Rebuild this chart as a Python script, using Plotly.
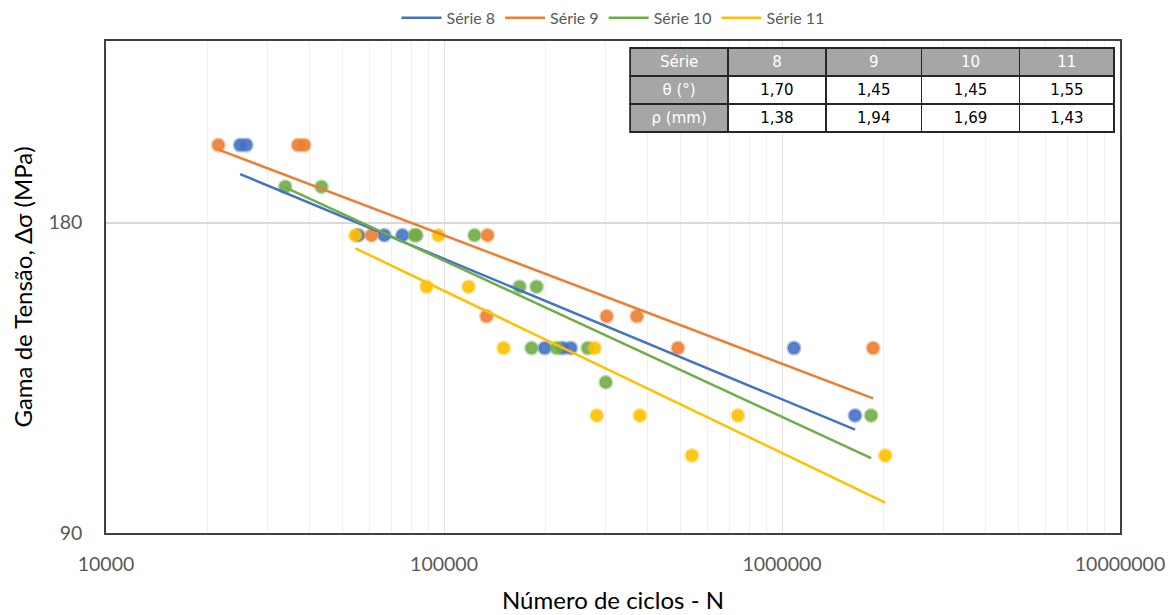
import numpy as np
import plotly.graph_objects as go

# ---------------- data ----------------
series_names = ["Série 8", "Série 9", "Série 10", "Série 11"]

s8_N = [24950, 26000, 55800, 66600, 75300, 198500, 224400, 237100, 1085000, 1645000]
s8_S = [214, 214, 175, 175, 175, 136, 136, 136, 136, 117]

s9_N = [21500, 37000, 38600, 61000, 133600, 134500, 303000, 372000, 492000, 1860000]
s9_S = [214, 214, 214, 175, 146, 175, 146, 146, 136, 136]

s10_N = [33900, 43400, 81800, 82900, 123100, 167300, 187900, 181600, 215400, 266200, 301000, 1835000]
s10_S = [195, 195, 175, 175, 175, 156, 156, 136, 136, 136, 126, 117]

s11_N = [54700, 96300, 88800, 118200, 150100, 279200, 283100, 379600, 740600, 541200, 2020000]
s11_S = [175, 175, 156, 156, 136, 136, 117, 117, 117, 107, 107]

x_ticks = [10000, 100000, 1000000, 10000000]
x_ticktext = ["10000", "100000", "1000000", "10000000"]
y_ticks = [90, 180]
y_ticktext = ["90", "180"]

table_header = ["Série", "8", "9", "10", "11"]
table_rows = ["θ (°)", "ρ (mm)"]
theta = ["1,70", "1,45", "1,45", "1,55"]
rho = ["1,38", "1,94", "1,69", "1,43"]

colors = ["#4472C4", "#ED7D31", "#70AD47", "#FFC000"]
rgb = [(68, 114, 196), (237, 125, 49), (112, 173, 71), (255, 192, 0)]

N_list = [s8_N, s9_N, s10_N, s11_N]
S_list = [s8_S, s9_S, s10_S, s11_S]

fig = go.Figure()

# markers
for name, N, S, (r, g, b) in zip(series_names, N_list, S_list, rgb):
    fig.add_trace(go.Scatter(
        x=N, y=S, mode="markers", name=name, showlegend=False,
        marker=dict(size=12, color=f"rgba({r},{g},{b},0.9)",
                    line=dict(width=3, color=f"rgba({r},{g},{b},0.45)")),
        hoverinfo="x+y"))

# power trendlines (least squares in log-log)
for name, N, S, col in zip(series_names, N_list, S_list, colors):
    lx = np.log10(np.array(N, float))
    ly = np.log10(np.array(S, float))
    bcoef, acoef = np.polyfit(lx, ly, 1)
    xs = np.logspace(lx.min(), lx.max(), 50)
    ys = 10 ** (acoef + bcoef * np.log10(xs))
    fig.add_trace(go.Scatter(x=xs, y=ys, mode="lines", name=name,
                             line=dict(color=col, width=2.5), hoverinfo="skip"))

# table
gray = "#A6A6A6"
fig.add_trace(go.Table(
    domain=dict(x=[0.517, 0.995], y=[0.80, 0.986]),
    columnwidth=[98, 98, 96, 98, 95],
    header=dict(values=table_header, fill_color=gray, height=28,
                line=dict(color="#262626", width=1.5), align="center",
                font=dict(family="DejaVu Sans", size=15, color="white")),
    cells=dict(values=[table_rows, [theta[0], rho[0]], [theta[1], rho[1]],
                       [theta[2], rho[2]], [theta[3], rho[3]]],
               fill_color=[[gray, gray], ["white", "white"], ["white", "white"],
                           ["white", "white"], ["white", "white"]],
               font=dict(family="DejaVu Sans", size=15,
                         color=[["white", "white"], ["black"] * 2, ["black"] * 2,
                                ["black"] * 2, ["black"] * 2]),
               height=28, line=dict(color="#262626", width=1.5), align="center")
))

minor_vals = [m * 10 ** e for e in range(4, 7) for m in range(2, 10)]

# the page body adds an 8px offset, so the figure is sized/margined to compensate
fig.update_layout(
    width=1168, height=607,
    margin=dict(l=98, r=56, t=33, b=82, autoexpand=False),
    paper_bgcolor="white", plot_bgcolor="white",
    font=dict(family="Lato", color="#595959"),
    legend=dict(orientation="h", x=0.5, xanchor="center", y=1.047, yanchor="middle",
                font=dict(size=16, color="#595959"), itemwidth=40,
                bgcolor="rgba(0,0,0,0)"),
    xaxis=dict(type="log", range=[4, 7], tickvals=x_ticks, ticktext=x_ticktext,
               automargin=False,
               showgrid=True, gridcolor="#E3E3E3", gridwidth=1,
               minor=dict(tickvals=minor_vals, showgrid=True, gridcolor="#F0F0F0", gridwidth=1),
               showline=True, linecolor="#404040", linewidth=1.5, mirror=True,
               ticks="outside", ticklen=13, tickcolor="rgba(0,0,0,0)",
               tickfont=dict(size=19.5, color="#595959"), zeroline=False,
               title=dict(text="Número de ciclos - N", font=dict(size=24, color="black"), standoff=18)),
    yaxis=dict(type="log", range=[np.log10(90), np.log10(270)], tickvals=y_ticks, ticktext=y_ticktext,
               automargin=False,
               showgrid=True, gridcolor="#D9D9D9", gridwidth=1.5,
               showline=True, linecolor="#404040", linewidth=1.5, mirror=True,
               ticks="outside", ticklen=18, tickcolor="rgba(0,0,0,0)",
               tickfont=dict(size=19.5, color="#595959"), zeroline=False,
               title=dict(text="Gama de Tensão, Δσ (MPa)", font=dict(size=24, color="black"), standoff=10)),
)

fig.write_html("out.html")
